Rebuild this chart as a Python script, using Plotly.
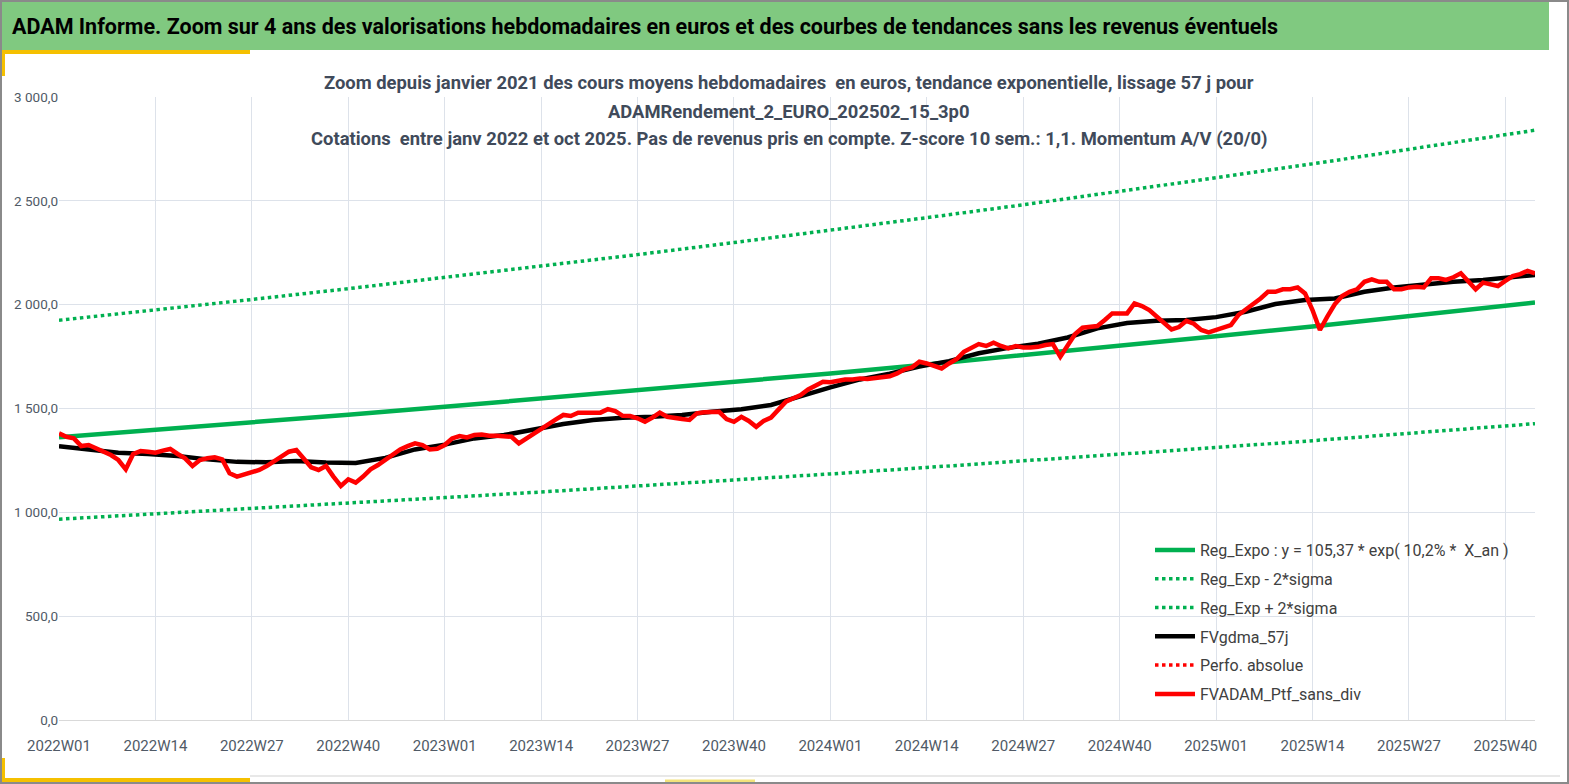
import plotly.graph_objects as go

# categories: weekly labels 2022W01 .. 2025W44
weeks = [f"{y}W{w:02d}" for y in (2022, 2023, 2024) for w in range(1, 53)] + \
        [f"2025W{w:02d}" for w in range(1, 45)]
tick_weeks = weeks[::13]

# exponential trend and +/- 2 sigma bands, read every 13 weeks (+ last week)
trend_idx = [0, 13, 26, 39, 52, 65, 78, 91, 104, 117, 130, 143, 156, 169, 182, 195, 199]
reg_expo = [1362, 1397, 1433, 1470, 1508, 1547, 1586, 1627, 1669, 1712, 1756, 1801,
            1848, 1895, 1944, 1994, 2010]
reg_minus = [967, 992, 1017, 1044, 1071, 1098, 1126, 1155, 1185, 1216, 1247, 1279,
             1312, 1345, 1380, 1416, 1427]
reg_plus = [1925, 1974, 2025, 2077, 2131, 2186, 2241, 2299, 2358, 2419, 2481, 2545,
            2611, 2678, 2747, 2817, 2840]

# smoothed curve (57 days), read every 4 weeks
gdma_idx = [0, 4, 8, 12, 16, 20, 24, 28, 32, 36, 40, 44, 48, 52, 56, 60, 64, 68, 72, 76,
            80, 84, 88, 92, 96, 100, 104, 108, 112, 116, 120, 124, 128, 132, 136, 140,
            144, 148, 152, 156, 160, 164, 168, 172, 176, 180, 184, 188, 192, 196, 199]
gdma_57j = [1318, 1303, 1287, 1281, 1271, 1255, 1243, 1241, 1247, 1240, 1238, 1262, 1303,
            1326, 1356, 1372, 1400, 1425, 1445, 1456, 1460, 1469, 1484, 1496, 1517, 1560,
            1602, 1640, 1668, 1702, 1728, 1766, 1792, 1812, 1842, 1886, 1912, 1922, 1926,
            1940, 1966, 2003, 2022, 2030, 2062, 2083, 2098, 2110, 2119, 2135, 2143]

# weekly portfolio value without income
ptf_sans_div = [
    1380, 1364, 1356, 1319, 1324, 1308, 1297, 1276, 1252, 1207,
    1281, 1295, 1292, 1287, 1297, 1305, 1281, 1260, 1223, 1252,
    1260, 1265, 1255, 1188, 1172, 1184, 1196, 1204, 1223, 1244,
    1271, 1292, 1300, 1260, 1217, 1204, 1223, 1172, 1127, 1159,
    1143, 1172, 1207, 1228, 1252, 1281, 1303, 1319, 1332, 1324,
    1303, 1306, 1324, 1356, 1367, 1361, 1372, 1375, 1369, 1369,
    1369, 1364, 1332, 1356, 1375, 1404, 1425, 1448, 1469, 1464,
    1480, 1480, 1480, 1480, 1497, 1488, 1465, 1464, 1453, 1436,
    1456, 1480, 1460, 1457, 1449, 1445, 1477, 1482, 1482, 1484,
    1449, 1436, 1460, 1440, 1412, 1440, 1456, 1493, 1533, 1549,
    1565, 1592, 1613, 1629, 1626, 1632, 1640, 1640, 1645, 1642,
    1645, 1650, 1655, 1669, 1689, 1698, 1725, 1717, 1704, 1693,
    1717, 1737, 1773, 1794, 1810, 1801, 1817, 1801, 1790, 1801,
    1794, 1794, 1797, 1806, 1810, 1749, 1806, 1859, 1889, 1894,
    1897, 1926, 1958, 1958, 1958, 2006, 1993, 1974, 1942, 1907,
    1881, 1892, 1922, 1908, 1878, 1867, 1878, 1894, 1902, 1950,
    1977, 1998, 2030, 2062, 2062, 2074, 2074, 2083, 2054, 1974,
    1878, 1942, 2002, 2042, 2062, 2074, 2110, 2122, 2110, 2110,
    2074, 2074, 2083, 2086, 2083, 2127, 2127, 2119, 2132, 2151,
    2115, 2074, 2106, 2099, 2090, 2115, 2138, 2147, 2163, 2151,
]
# "Perfo. absolue" has no visible values in the chart, only a legend entry
perfo_absolue = [None] * len(weeks)

W, H = 1569, 784
L, R, T, B = 59, 1535, 97, 720
FONT = "Roboto, sans-serif"
GREEN = "#00b050"


def px(x):
    return (x - L) / (R - L)


def py(y):
    return (B - y) / (B - T)


trend_x = [weeks[i] for i in trend_idx]
gdma_x = [weeks[i] for i in gdma_idx]

fig = go.Figure()
fig.add_trace(go.Scatter(x=trend_x, y=reg_expo, mode="lines", legendgroup="a",
                         name="Reg_Expo : y = 105,37 * exp( 10,2% *  X_an )",
                         line=dict(color=GREEN, width=4.5)))
fig.add_trace(go.Scatter(x=trend_x, y=reg_minus, mode="lines", legendgroup="b",
                         name="Reg_Exp - 2*sigma",
                         line=dict(color=GREEN, width=3.5, dash="dot")))
fig.add_trace(go.Scatter(x=trend_x, y=reg_plus, mode="lines", legendgroup="c",
                         name="Reg_Exp + 2*sigma",
                         line=dict(color=GREEN, width=3.5, dash="dot")))
fig.add_trace(go.Scatter(x=gdma_x, y=gdma_57j, mode="lines", legendgroup="d",
                         name="FVgdma_57j", line=dict(color="black", width=4.5)))
fig.add_trace(go.Scatter(x=weeks, y=perfo_absolue, mode="lines",
                         legendgroup="e", name="Perfo. absolue",
                         line=dict(color="red", width=3.5, dash="dot")))
fig.add_trace(go.Scatter(x=weeks, y=ptf_sans_div, mode="lines", legendgroup="f",
                         name="FVADAM_Ptf_sans_div", line=dict(color="#ff0000", width=4.5)))

shapes = [
    # green header band
    dict(type="rect", xref="paper", yref="paper", x0=px(0), x1=px(1549), y0=py(50), y1=py(0),
         fillcolor="#80c980", line=dict(width=0), layer="below"),
    # yellow accents
    dict(type="line", xref="paper", yref="paper", x0=px(0), x1=px(250), y0=py(52), y1=py(52),
         line=dict(color="#f5c000", width=4)),
    dict(type="line", xref="paper", yref="paper", x0=px(3), x1=px(3), y0=py(52), y1=py(76),
         line=dict(color="#f5c000", width=4)),
    dict(type="line", xref="paper", yref="paper", x0=px(0), x1=px(250), y0=py(780), y1=py(780),
         line=dict(color="#f5c000", width=4)),
    dict(type="line", xref="paper", yref="paper", x0=px(3), x1=px(3), y0=py(758), y1=py(784),
         line=dict(color="#f5c000", width=4)),
    dict(type="line", xref="paper", yref="paper", x0=px(665), x1=px(755), y0=py(781), y1=py(781),
         line=dict(color="#f3e27a", width=3)),
    dict(type="line", xref="paper", yref="paper", x0=px(250), x1=px(1560), y0=py(776), y1=py(776),
         line=dict(color="#e8e8e8", width=2)),
    # outer border
    dict(type="rect", xref="paper", yref="paper", x0=px(1), x1=px(W - 1), y0=py(H - 1), y1=py(1),
         line=dict(color="#8a8a8a", width=2)),
]

title_lines = [
    "Zoom depuis janvier 2021 des cours moyens hebdomadaires  en euros, tendance exponentielle, lissage 57 j pour",
    "ADAMRendement_2_EURO_202502_15_3p0",
    "Cotations  entre janv 2022 et oct 2025. Pas de revenus pris en compte. Z-score 10 sem.: 1,1. Momentum A/V (20/0)",
]
annotations = [
    dict(text="<b>ADAM Informe. Zoom sur 4 ans des valorisations hebdomadaires en euros et des courbes "
              "de tendances sans les revenus éventuels</b>",
         xref="paper", yref="paper", x=px(10), y=py(27), xanchor="left", yanchor="middle",
         showarrow=False, font=dict(family=FONT, size=21.5, color="black")),
]
for k, line in enumerate(title_lines):
    annotations.append(dict(text="<b>" + line + "</b>", xref="paper", yref="paper",
                            x=px(789), y=py(83 + 28 * k), xanchor="center", yanchor="middle",
                            showarrow=False, font=dict(family=FONT, size=18.4, color="#404a5a")))

fig.update_layout(
    width=W, height=H,
    margin=dict(l=L, r=W - R, t=T, b=H - B, pad=0),
    paper_bgcolor="white", plot_bgcolor="white",
    separators=", ",
    font=dict(family=FONT, color="#595959"),
    shapes=shapes,
    annotations=annotations,
    showlegend=True,
    legend=dict(x=px(1150), y=py(533), xanchor="left", yanchor="top",
                bgcolor="rgba(0,0,0,0)", tracegroupgap=5, itemwidth=40,
                font=dict(family=FONT, size=16, color="#404040")),
    xaxis=dict(type="category", categoryorder="array", categoryarray=weeks,
               range=[0, len(weeks) - 1], tickmode="array", tickvals=tick_weeks,
               ticktext=tick_weeks, showgrid=True, gridcolor="#dde2ea", gridwidth=1,
               showline=True, linecolor="#d9d9d9", ticks="", zeroline=False,
               tickfont=dict(family=FONT, size=15, color="#505a66"), ticklabelstandoff=12),
    yaxis=dict(range=[0, 3000], dtick=500, tickformat=",.1f", showgrid=True,
               gridcolor="#dde2ea", gridwidth=1, zeroline=False, showline=False, ticks="",
               tickfont=dict(family=FONT, size=13.5, color="#505a66")),
)

fig.write_html("out.html", config={"displayModeBar": False},
               post_script="document.body.style.margin='0';")
